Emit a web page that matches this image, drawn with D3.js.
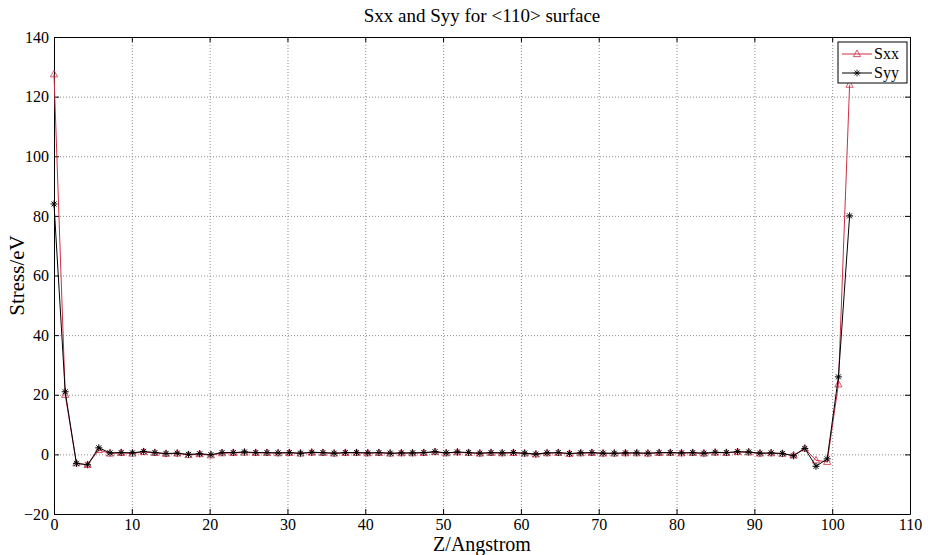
<!DOCTYPE html>
<html>
<head>
<meta charset="utf-8">
<script src="https://cdn.jsdelivr.net/npm/d3@7"></script>
<style>
    body { margin: 0; background: #fff; }
    .grid line { stroke: #8c8c8c; stroke-dasharray: 1,2; }
    .grid path { display: none; }
    .axis path, .axis line { stroke: #000; }
</style>
</head>
<body>
<div id="graph"></div>
<script>
/*
    Data
*/
var zPos = [0, 1.44, 2.88, 4.32, 5.76, 7.2, 8.64, 10.08, 11.52, 12.96,
            14.4, 15.84, 17.28, 18.72, 20.16, 21.6, 23.04, 24.48, 25.92, 27.36,
            28.8, 30.24, 31.68, 33.12, 34.56, 36, 37.44, 38.88, 40.32, 41.76,
            43.2, 44.64, 46.08, 47.52, 48.96, 50.4, 51.84, 53.28, 54.72, 56.16,
            57.6, 59.04, 60.48, 61.92, 63.36, 64.8, 66.24, 67.68, 69.12, 70.56,
            72, 73.44, 74.88, 76.32, 77.76, 79.2, 80.64, 82.08, 83.52, 84.96,
            86.4, 87.84, 89.28, 90.72, 92.16, 93.6, 95.04, 96.48, 97.92, 99.36,
            100.8, 102.24]

var sxx = [127.5, 20, -3, -3.5, 1.5, 0.3, 0.5, 0.3, 0.8, 0.5,
           0.2, 0.3, -0.2, 0.1, -0.3, 0.4, 0.5, 0.6, 0.5, 0.5,
           0.4, 0.5, 0.3, 0.6, 0.5, 0.3, 0.5, 0.5, 0.4, 0.5,
           0.3, 0.4, 0.4, 0.5, 0.8, 0.4, 0.7, 0.5, 0.3, 0.5,
           0.4, 0.5, 0.3, 0, 0.4, 0.5, 0.2, 0.4, 0.5, 0.3,
           0.3, 0.4, 0.4, 0.3, 0.5, 0.5, 0.4, 0.5, 0.3, 0.6,
           0.5, 0.8, 0.7, 0.3, 0.4, 0.2, -0.3, 2, -2, -2.5,
           23.5, 124]

var syy = [84, 21, -3, -3.5, 2.2, 0.5, 0.6, 0.5, 1, 0.6,
           0.3, 0.4, 0, 0.2, -0.1, 0.6, 0.6, 0.8, 0.6, 0.6,
           0.5, 0.6, 0.4, 0.7, 0.6, 0.4, 0.6, 0.6, 0.5, 0.6,
           0.4, 0.5, 0.5, 0.6, 0.9, 0.5, 0.8, 0.6, 0.4, 0.6,
           0.5, 0.6, 0.4, 0.1, 0.5, 0.6, 0.3, 0.5, 0.6, 0.4,
           0.4, 0.5, 0.5, 0.4, 0.6, 0.6, 0.5, 0.6, 0.4, 0.7,
           0.6, 0.9, 0.8, 0.4, 0.5, 0.3, -0.5, 2, -4, -1.5,
           26, 80]

var xTicks = [0, 10, 20, 30, 40, 50, 60, 70, 80, 90, 100, 110]
var yTicks = [-20, 0, 20, 40, 60, 80, 100, 120, 140]

var sxxColor = "#cc2f45",
    syyColor = "#000",
    serif = "'Liberation Serif', 'Times New Roman', 'DejaVu Serif', serif"

/*
    Dimensions
*/
var margin = {top: 37, right: 18, bottom: 41, left: 54},
    width = 928 - margin.left - margin.right,
    height = 555 - margin.top - margin.bottom

var root = d3.select("#graph").append("svg")
    .attr("width", 928)
    .attr("height", 555)
    .style("font-family", serif)

var svg = root.append("g")
    .attr("transform", "translate(" + margin.left + "," + margin.top + ")")

var x = d3.scaleLinear().domain([0, 110]).range([0, width]),
    y = d3.scaleLinear().domain([-20, 140]).range([height, 0])

/*
    Grid
*/
svg.append("g")
    .attr("class", "grid")
    .attr("transform", "translate(0," + height + ")")
    .call(d3.axisBottom(x).tickValues(xTicks.slice(1, -1)).tickSize(-height).tickFormat(""))

svg.append("g")
    .attr("class", "grid")
    .call(d3.axisLeft(y).tickValues(yTicks.slice(1, -1)).tickSize(-width).tickFormat(""))

/*
    Axes (ticks pointing inward, box all round)
*/
svg.append("g")
    .attr("class", "axis")
    .attr("transform", "translate(0," + height + ")")
    .call(d3.axisBottom(x).tickValues(xTicks).tickSizeInner(-5).tickSizeOuter(0).tickPadding(5))

svg.append("g")
    .attr("class", "axis")
    .call(d3.axisTop(x).tickValues(xTicks).tickSizeInner(-5).tickSizeOuter(0).tickFormat(""))

svg.append("g")
    .attr("class", "axis")
    .call(d3.axisLeft(y).tickValues(yTicks).tickSizeInner(-5).tickSizeOuter(0).tickPadding(5))

svg.append("g")
    .attr("class", "axis")
    .attr("transform", "translate(" + width + ",0)")
    .call(d3.axisRight(y).tickValues(yTicks).tickSizeInner(-5).tickSizeOuter(0).tickFormat(""))

svg.selectAll(".axis")
    .attr("font-family", serif)
    .attr("font-size", 16)

svg.selectAll(".axis text")
    .style("font-family", serif)
    .style("font-size", "16px")
    .attr("fill", "#000")

/*
    Lines and markers
*/
var line = d3.line()
    .x(function(d) { return x(d[0]) })
    .y(function(d) { return y(d[1]) })

var sxxData = zPos.map(function(z, i) { return [z, sxx[i]] }),
    syyData = zPos.map(function(z, i) { return [z, syy[i]] })

svg.append("path")
    .attr("d", line(sxxData))
    .attr("fill", "none")
    .attr("stroke", sxxColor)
    .attr("stroke-width", 1)

var triangle = "M0,-4L3.6,2.6L-3.6,2.6Z"
var star = "M-3.5,0H3.5M0,-3.5V3.5M-2.5,-2.5L2.5,2.5M-2.5,2.5L2.5,-2.5"

svg.selectAll(".tri")
    .data(sxxData)
    .enter().append("path")
    .attr("class", "tri")
    .attr("transform", function(d) { return "translate(" + x(d[0]) + "," + y(d[1]) + ")" })
    .attr("d", triangle)
    .attr("fill", "none")
    .attr("stroke", sxxColor)
    .attr("stroke-width", 0.8)

svg.append("path")
    .attr("d", line(syyData))
    .attr("fill", "none")
    .attr("stroke", syyColor)
    .attr("stroke-width", 1)

svg.selectAll(".star")
    .data(syyData)
    .enter().append("path")
    .attr("class", "star")
    .attr("transform", function(d) { return "translate(" + x(d[0]) + "," + y(d[1]) + ")" })
    .attr("d", star)
    .attr("fill", "none")
    .attr("stroke", syyColor)
    .attr("stroke-width", 1)

/*
    Legend
*/
var legend = svg.append("g")
    .attr("transform", "translate(" + (width - 72) + ",5)")

legend.append("rect")
    .attr("width", 69)
    .attr("height", 41)
    .attr("fill", "#fff")
    .attr("stroke", "#000")

var items = [
    {name: "Sxx", color: sxxColor, marker: triangle, ty: 12},
    {name: "Syy", color: syyColor, marker: star, ty: 31}
]

items.forEach(function(it) {
    legend.append("line")
        .attr("x1", 4).attr("x2", 34)
        .attr("y1", it.ty).attr("y2", it.ty)
        .attr("stroke", it.color)
    legend.append("path")
        .attr("transform", "translate(19," + it.ty + ")")
        .attr("d", it.marker)
        .attr("fill", "none")
        .attr("stroke", it.color)
        .attr("stroke-width", 0.8)
    legend.append("text")
        .attr("x", 36)
        .attr("y", it.ty + 5)
        .style("font-family", serif)
        .style("font-size", "16px")
        .text(it.name)
})

/*
    Title and labels
*/
root.append("text")
    .attr("x", margin.left + width / 2)
    .attr("y", 22)
    .attr("text-anchor", "middle")
    .style("font-family", serif)
    .style("font-size", "19px")
    .text("Sxx and Syy for <110> surface")

root.append("text")
    .attr("x", margin.left + width / 2)
    .attr("y", 551)
    .attr("text-anchor", "middle")
    .style("font-family", serif)
    .style("font-size", "20px")
    .text("Z/Angstrom")

root.append("text")
    .attr("transform", "translate(24," + (margin.top + height / 2) + ") rotate(-90)")
    .attr("text-anchor", "middle")
    .style("font-family", serif)
    .style("font-size", "21px")
    .text("Stress/eV")
</script>
</body>
</html>
